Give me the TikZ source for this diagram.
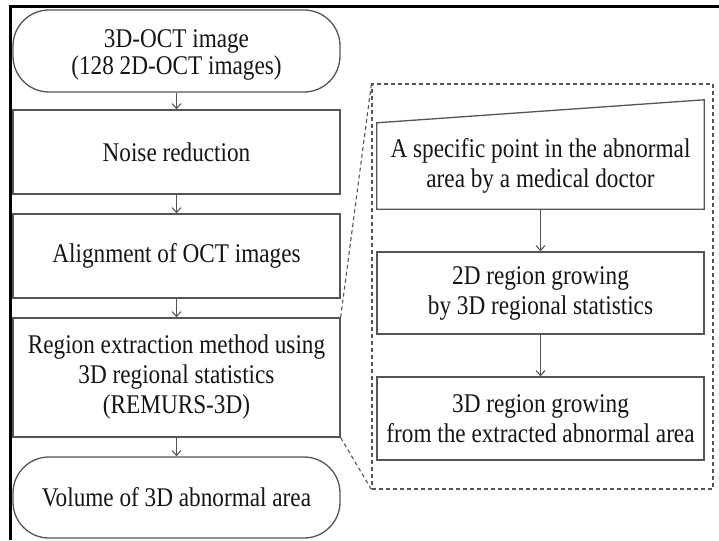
\documentclass[tikz,border=0pt]{standalone}
\usepackage{fontspec}
\setmainfont{Liberation Serif}[FakeStretch=0.86]
\usetikzlibrary{arrows.meta,calc}

\definecolor{edge}{HTML}{555555}
\definecolor{ink}{HTML}{151515}

\tikzset{
  stage/.style={draw=edge, line width=1.3pt, minimum width=327pt, inner sep=0pt,
    align=center, text=ink, font=\fontsize{27}{30}\selectfont},
  terminal/.style={stage, rounded corners=36pt},
  plain/.style={minimum width=327pt, inner sep=0pt, align=center, text=ink,
    font=\fontsize{27}{30}\selectfont},
  flow/.style={draw=edge, line width=1.1pt, -{Straight Barb[length=5pt,width=9pt]}},
  zoomline/.style={draw=edge, line width=1.1pt, dash pattern=on 4pt off 3pt},
  frameline/.style={draw=black, line width=3pt}
}

\begin{document}
\begin{tikzpicture}[x=1pt, y=-1pt]
  \useasboundingbox (0,0) rectangle (719,540);

  % outer frame (top and left edges)
  \draw[frameline] (10.5,540) -- (10.5,6.5) -- (719,6.5);

  % main pipeline
  \node[terminal, minimum height=82pt] (input) at (176.5,51) {};
  \node[plain, minimum width=0pt] (inputtext) at ($(input.center)+(0,4)$)
    {3D-OCT image\\[-3pt](128 2D-OCT images)};
  \node[stage, minimum height=84pt] (noise) at (176.5,152) {Noise reduction};
  \node[stage, minimum height=84pt] (align) at (176.5,256) {Alignment of OCT images};
  \node[stage, minimum height=119pt] (remurs) at (176.5,377.5)
    {Region extraction method using\\3D regional statistics\\(REMURS-3D)};
  \node[terminal, minimum height=81pt] (volume) at (176.5,497.5)
    {Volume of 3D abnormal area};

  \draw[flow] (input) -- (noise);
  \draw[flow] (noise) -- (align);
  \draw[flow] (align) -- (remurs);
  \draw[flow] (remurs) -- (volume);

  % detail of the REMURS-3D step
  \node[minimum width=341pt, minimum height=405pt, inner sep=0pt,
        zoomline] (detail) at (542.5,286.5) {};
  \draw[zoomline] (remurs.north east) -- (detail.north west);
  \draw[zoomline] (remurs.south east) -- (detail.south west);

  \node[plain, minimum height=86pt] (seed) at (540.5,166)
    {A specific point in the abnormal\\area by a medical doctor};
  \draw[draw=edge, line width=1.3pt]
    (seed.north west) -- (seed.south west) -- (seed.south east)
    -- ($(seed.north east)+(0,-23)$) -- cycle;
  \node[stage, minimum height=82pt] (grow2d) at (540.5,293)
    {2D region growing\\by 3D regional statistics};
  \node[stage, minimum height=83pt] (grow3d) at (540.5,418.5)
    {3D region growing\\from the extracted abnormal area};

  \draw[flow] (seed) -- (grow2d);
  \draw[flow] (grow2d) -- (grow3d);
\end{tikzpicture}
\end{document}
